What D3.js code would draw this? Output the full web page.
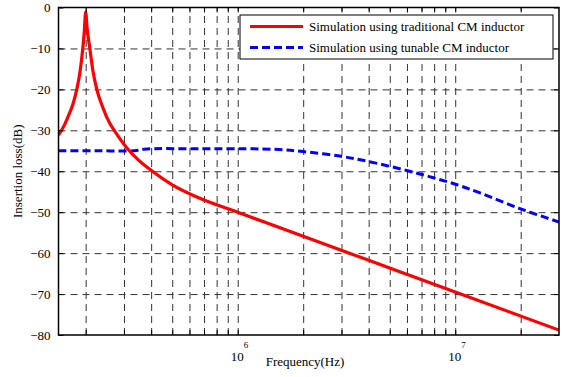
<!DOCTYPE html>
<html>
<head>
<meta charset="utf-8">
<script src="https://cdn.jsdelivr.net/npm/d3@7/dist/d3.min.js"></script>
<style>
  body { margin: 0; background: #fff; }
  svg { display: block; font-family: "Liberation Serif", "Times New Roman", serif; }
</style>
</head>
<body>
<svg id="chart" width="569" height="377"></svg>
<script>
// frequency (Hz) and insertion loss (dB)
var tradFreq = [1.5e5, 1.6e5, 1.68e5, 1.75e5, 1.82e5, 1.88e5, 1.94e5, 1.97e5, 2.0e5, 2.03e5, 2.09e5, 2.16e5,
                2.25e5, 2.4e5, 2.58e5, 2.72e5, 3.08e5, 3.5e5, 4.05e5, 5.0e5, 6.7e5, 1e6, 2e6, 5.6e6, 1e7, 3e7];
var tradLoss = [-31.2, -28.6, -26, -23.5, -20, -16, -10, -6, -1.1, -5, -10, -15.5,
                -20, -24.5, -28.3, -30.2, -34.2, -37.3, -40, -43.3, -46.6, -50, -55.9, -64.6, -69.5, -78.8];

var tuneFreq = [1.5e5, 2.31e5, 3.35e5, 3.72e5, 6.7e5, 1.1e6, 1.56e6, 2.0e6, 2.95e6, 3.98e6, 5.98e6, 7.94e6, 1.02e7, 1.3e7, 2.0e7, 3e7];
var tuneLoss = [-35, -35, -35, -34.6, -34.5, -34.5, -34.7, -35.2, -36.3, -37.6, -39.8, -41.6, -43.3, -45.3, -49.2, -52.4];

var seriesNames = ["Simulation using traditional CM inductor", "Simulation using tunable CM inductor"];
var xGridValues = [2e5, 3e5, 4e5, 5e5, 6e5, 7e5, 8e5, 9e5, 1e6, 2e6, 3e6, 4e6, 5e6, 6e6, 7e6, 8e6, 9e6, 1e7, 2e7];
var xLabelValues = [1e6, 1e7];
var yTicks = [0, -10, -20, -30, -40, -50, -60, -70, -80];

(function () {
    'use strict';

    var svg = d3.select("#chart"),
        left = 58.5, right = 559, top = 7.5, bottom = 335,
        w = right - left, h = bottom - top;

    var x = d3.scaleLog().domain([1.5e5, 3e7]).range([left, right]);
    var y = d3.scaleLinear().domain([-80, 0]).range([bottom, top]);

    function gridStyle(g) {
        g.select(".domain").remove();
        g.selectAll("line").attr("stroke", "#333").attr("stroke-width", 1).attr("stroke-dasharray", "7,5");
    }

    // grid
    svg.append("g")
        .attr("transform", "translate(0," + bottom + ")")
        .call(d3.axisBottom(x).tickValues(xGridValues).tickSize(-h).tickFormat(""))
        .call(gridStyle);
    svg.append("g")
        .attr("transform", "translate(" + left + ",0)")
        .call(d3.axisLeft(y).tickValues(yTicks.slice(1, -1)).tickSize(-w).tickFormat(""))
        .call(gridStyle);

    // lines
    svg.append("clipPath").attr("id", "clip")
        .append("rect").attr("x", left).attr("y", top - 2).attr("width", w).attr("height", h + 2);

    var line = d3.line()
        .x(function (d) { return x(d[0]); })
        .y(function (d) { return y(d[1]); });

    svg.append("path")
        .datum(d3.zip(tuneFreq, tuneLoss))
        .attr("clip-path", "url(#clip)")
        .attr("d", line.curve(d3.curveCatmullRom.alpha(0.5)))
        .attr("fill", "none")
        .attr("stroke", "#0000ff")
        .attr("stroke-width", 3)
        .attr("stroke-dasharray", "8,4");

    svg.append("path")
        .datum(d3.zip(tradFreq, tradLoss))
        .attr("clip-path", "url(#clip)")
        .attr("d", line.curve(d3.curveMonotoneX))
        .attr("fill", "none")
        .attr("stroke", "#ff0000")
        .attr("stroke-width", 3.2)
        .attr("stroke-linejoin", "round");

    // axes with inward ticks
    function styleAxis(g) {
        g.select(".domain").remove();
        g.selectAll("line").attr("stroke", "#000");
        g.selectAll("text").attr("font-family", "Liberation Serif, serif").attr("font-size", 13).attr("fill", "#000");
    }
    svg.append("g").attr("transform", "translate(0," + bottom + ")")
        .call(d3.axisBottom(x).tickValues(xGridValues).tickSize(-5).tickFormat("")).call(styleAxis);
    svg.append("g").attr("transform", "translate(0," + top + ")")
        .call(d3.axisTop(x).tickValues(xGridValues).tickSize(-5).tickFormat("")).call(styleAxis);
    svg.append("g").attr("transform", "translate(" + left + ",0)")
        .call(d3.axisLeft(y).tickValues(yTicks).tickSize(-5).tickPadding(8).tickFormat(d3.format("d"))).call(styleAxis);
    svg.append("g").attr("transform", "translate(" + right + ",0)")
        .call(d3.axisRight(y).tickValues(yTicks).tickSize(-5).tickFormat("")).call(styleAxis);

    svg.append("rect")
        .attr("x", left).attr("y", top).attr("width", w).attr("height", h)
        .attr("fill", "none").attr("stroke", "#000").attr("stroke-width", 1.5);

    // x labels 10^6, 10^7
    var xl = svg.selectAll(".xl").data(xLabelValues).enter().append("g")
        .attr("transform", function (d) { return "translate(" + x(d) + ",0)"; });
    xl.append("text").attr("x", -7).attr("y", 361).attr("font-size", 13).text("10");
    xl.append("text").attr("x", 6).attr("y", 348).attr("font-size", 9)
        .text(function (d) { return Math.round(Math.log10(d)); });

    svg.append("text").attr("x", 305).attr("y", 366).attr("text-anchor", "middle")
        .attr("font-size", 13).text("Frequency(Hz)");
    svg.append("text").attr("transform", "translate(22," + (top + bottom) / 2 + ") rotate(-90)")
        .attr("text-anchor", "middle").attr("font-size", 13).text("Insertion loss(dB)");

    // legend
    var lg = svg.append("g");
    lg.append("rect").attr("x", 240).attr("y", 15).attr("width", 313).attr("height", 44)
        .attr("fill", "#fff").attr("stroke", "#000").attr("stroke-width", 1);
    var colors = ["#ff0000", "#0000ff"], dashes = [null, "8,4"];
    seriesNames.forEach(function (name, i) {
        var yy = 26.5 + i * 21;
        lg.append("line").attr("x1", 250).attr("x2", 303).attr("y1", yy).attr("y2", yy)
            .attr("stroke", colors[i]).attr("stroke-width", 3).attr("stroke-dasharray", dashes[i]);
        lg.append("text").attr("x", 309).attr("y", yy + 4.5).attr("font-size", 13).text(name);
    });
})();
</script>
</body>
</html>
